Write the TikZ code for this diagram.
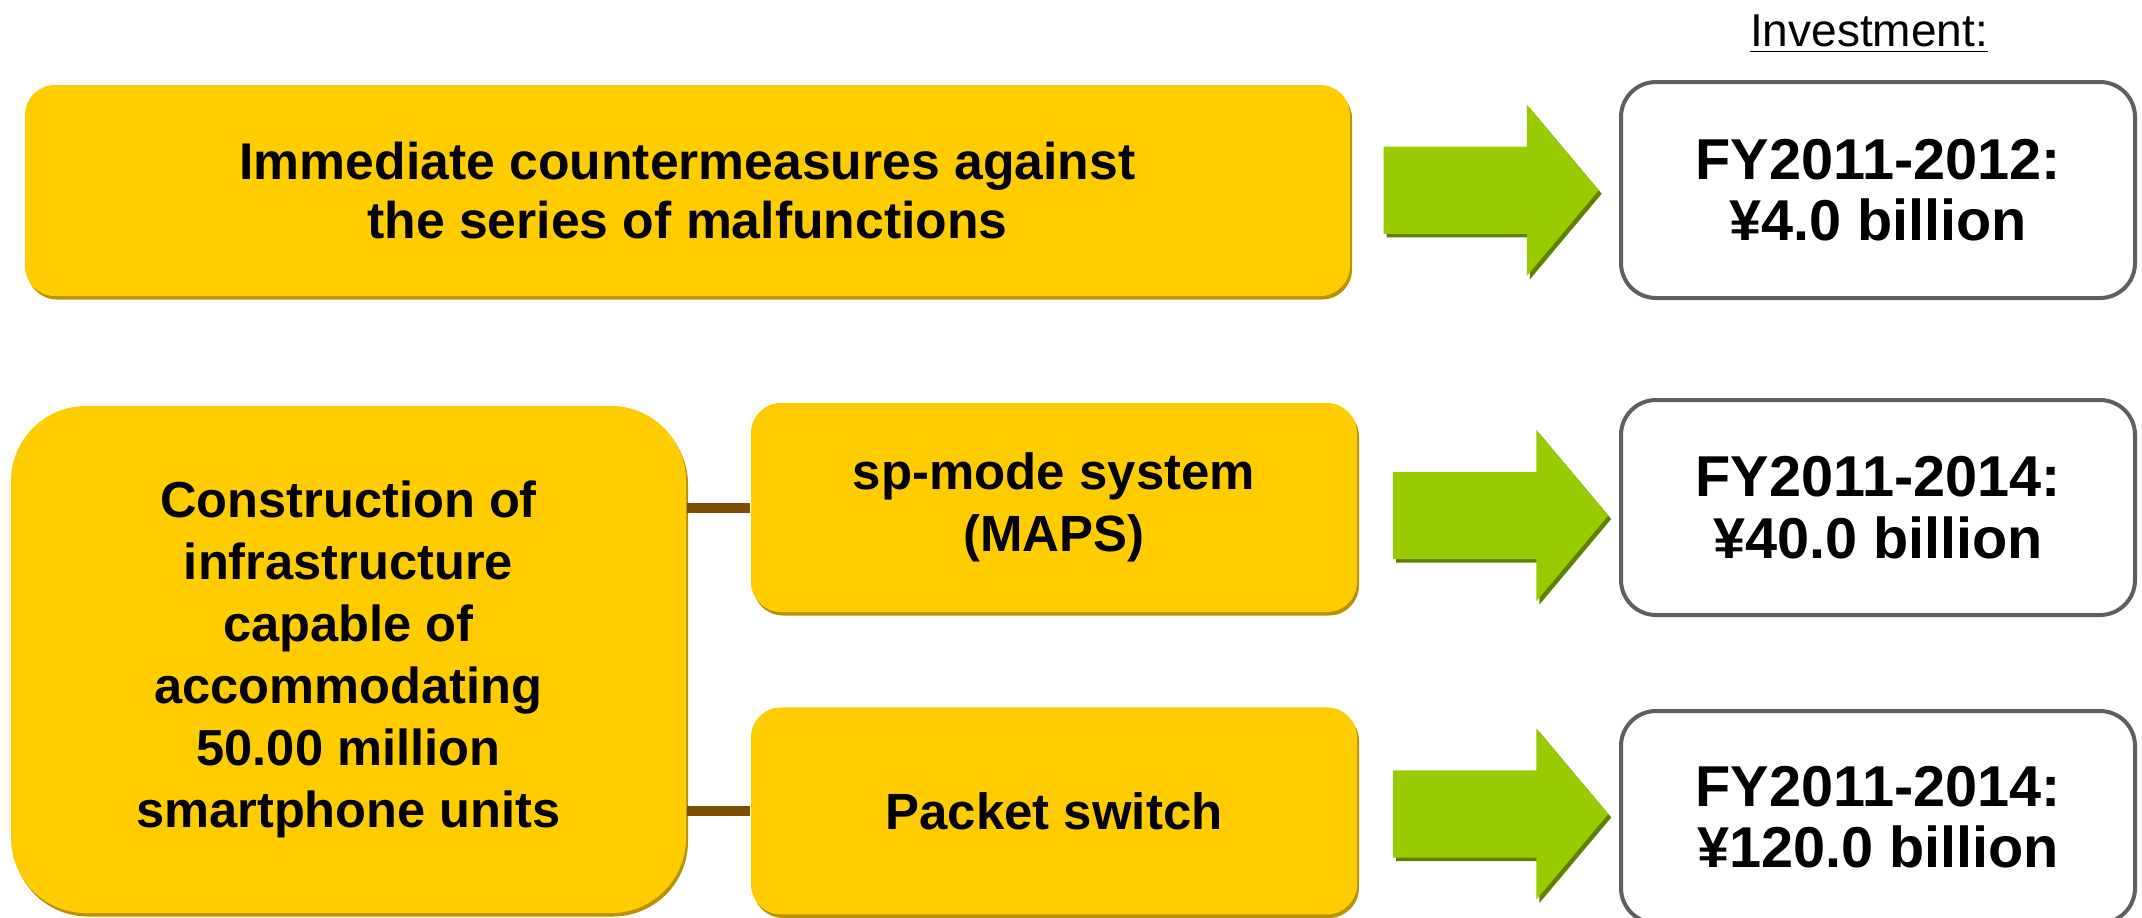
\documentclass[tikz,border=0pt]{standalone}
\usepackage{fontspec}
\setmainfont{Liberation Sans}
\usepackage{xcolor}
\usetikzlibrary{positioning}
\usetikzlibrary{calc}
\usetikzlibrary{shapes.arrows}
\usetikzlibrary{shadows}
\definecolor{plangold}{HTML}{FFCC00}
\definecolor{goldedge}{HTML}{B8930A}
\definecolor{arrowgreen}{HTML}{99CC00}
\definecolor{arrowedge}{HTML}{5F8000}
\definecolor{linkbrown}{HTML}{7F4F00}
\definecolor{costgray}{HTML}{5F5F5F}
\tikzstyle{measure} = [rectangle, rounded corners=0.3cm, fill=plangold, text centered, align=center, inner sep=0pt, font=\bfseries\fontsize{14.5}{17.5}\selectfont, drop shadow={shadow xshift=0.02cm, shadow yshift=-0.035cm, fill=goldedge, opacity=1}]
\tikzstyle{cost} = [rectangle, rounded corners=0.35cm, draw=costgray, line width=0.04cm, fill=white, minimum width=5.14cm, text centered, align=center, font=\bfseries\fontsize{16.4}{17.5}\selectfont]
\tikzstyle{bigarrow} = [single arrow, fill=arrowgreen, minimum height=2.15cm, minimum width=1.7cm, single arrow head extend=0.42cm, single arrow tip angle=100, inner xsep=0pt, inner ysep=0.43cm, drop shadow={shadow xshift=0.03cm, shadow yshift=-0.035cm, fill=arrowedge, opacity=1}]
\tikzstyle{link} = [line width=0.1cm, draw=linkbrown]

\begin{document}
\begin{tikzpicture}
    \useasboundingbox (0,0) rectangle (21.42,-9.17);

        \node (urgent) [measure, minimum width=13.25cm, minimum height=2.11cm, font=\bfseries\fontsize{14.7}{17}\selectfont] at (6.875,-1.905) {Immediate countermeasures against\\the series of malfunctions};
        \node (infra) [measure, rounded corners=0.75cm, minimum width=6.75cm, minimum height=5.07cm, font=\bfseries\fontsize{14.4}{17.6}\selectfont] at (3.485,-6.595) {Construction of\\infrastructure\\capable of\\accommodating\\50.00 million\\smartphone units};
        \node (spmode) [measure, minimum width=6.06cm, minimum height=2.09cm] at (10.54,-5.075) {sp-mode system\\(MAPS)};
        \node (packet) [measure, minimum width=6.06cm, minimum height=2.07cm, below=0.94cm of spmode] {Packet switch};

        \node (cost1) [cost, minimum height=2.16cm] at (18.78,-1.90) {FY2011-2012:\\¥4.0 billion};
        \node (cost2) [cost, minimum height=2.15cm, below=0.98cm of cost1] {FY2011-2014:\\¥40.0 billion};
        \node (cost3) [cost, minimum height=2.12cm, below=0.92cm of cost2] {FY2011-2014:\\¥120.0 billion};
        \node (invest) [anchor=base, font=\fontsize{13.1}{15}\selectfont] at (18.69,-0.46) {\underline{Investment:}};

        \node (arrow1) [bigarrow, xshift=-0.12cm] at ($(urgent.east)!0.5!(cost1.west)$) {};
        \node (arrow2) [bigarrow, xshift=-0.06cm, yshift=-0.08cm] at ($(spmode.east)!0.5!(cost2.west)$) {};
        \node (arrow3) [bigarrow, xshift=-0.06cm] at ($(packet.east)!0.5!(cost3.west)$) {};

        \draw [link] (spmode.west) -- (spmode.west -| infra.east);
        \draw [link] (packet.west) -- (packet.west -| infra.east);

    \end{tikzpicture}
\end{document}
